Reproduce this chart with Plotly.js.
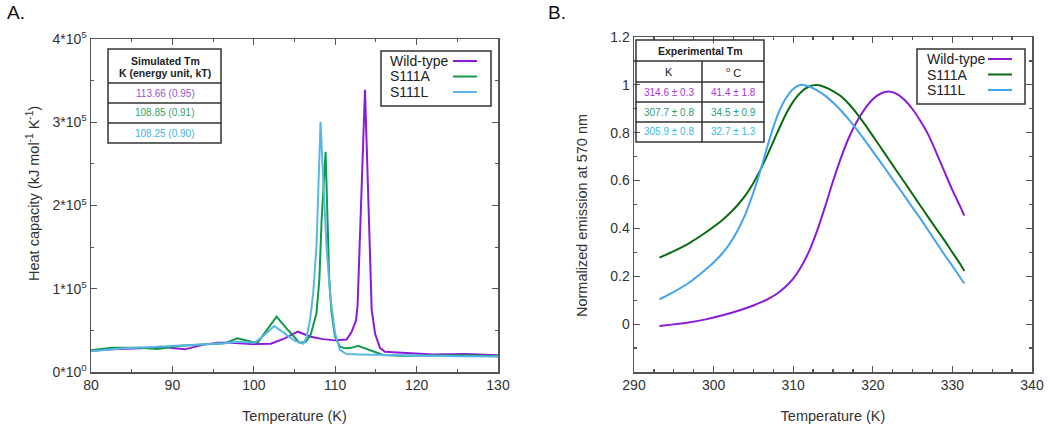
<!DOCTYPE html>
<html>
<head>
<meta charset="utf-8">
<script src="https://cdn.plot.ly/plotly-3.0.1.min.js"></script>
<style>
  body { margin: 0; background: #fff; }
  #myDiv { width: 1050px; height: 428px; }
</style>
</head>
<body>
<div id="myDiv"></div>
<script>
// ---- panel A: simulated heat capacity ----
const tA_wt = [80, 82.5, 86.1, 88.6, 91.5, 94.0, 95.6, 97.2, 99.7, 102.1, 103.8, 105.4, 107.0, 108.5, 110, 111.4, 112.0, 112.56, 112.75, 113.2, 113.66, 114.0, 114.48, 114.9, 115.5, 116.1, 117.5, 119, 122, 126, 130];
const cp_wt = [25600, 27200, 28400, 30400, 27200, 33200, 35200, 35200, 33600, 34000, 40400, 48400, 42400, 39500, 38000, 39000, 48000, 62000, 80000, 210000, 339000, 230000, 75000, 46000, 29000, 24400, 23500, 23000, 21000, 21500, 20000];

const tA_a = [80, 82.5, 86.1, 88.2, 90.6, 93.5, 96.4, 98.0, 99.7, 100.5, 101.7, 102.8, 104.2, 105.6, 106.4, 107.0, 107.7, 108.05, 108.33, 108.82, 109.27, 109.56, 109.98, 110.6, 111.2, 112.0, 112.8, 114.3, 115.9, 118, 122, 126, 130];
const cp_a = [26000, 29200, 29200, 27600, 31200, 32400, 34400, 40400, 36400, 35600, 52400, 66400, 50400, 35200, 36400, 45000, 70800, 110500, 182500, 264600, 110500, 70800, 42400, 30400, 28400, 29000, 31600, 26400, 20400, 19500, 19500, 20000, 19000];

const tA_l = [80, 84.1, 88.2, 92.3, 96.4, 98.0, 100.1, 101.3, 102.5, 103.8, 105.0, 106.1, 106.5, 106.9, 107.3, 107.7, 108.2, 108.53, 108.94, 109.4, 109.98, 110.6, 111.4, 113, 116, 120, 125, 130];
const cp_l = [25000, 28400, 30400, 32400, 34400, 36400, 35200, 44400, 55200, 46400, 37600, 34000, 42000, 62400, 94500, 150500, 300600, 230600, 150500, 90400, 46500, 26400, 21600, 21000, 20400, 19500, 19000, 18500];

const yTickValsA = [0, 100000, 200000, 300000, 400000];
const yTickTextA = ['0*10<sup>0</sup>', '1*10<sup>5</sup>', '2*10<sup>5</sup>', '3*10<sup>5</sup>', '4*10<sup>5</sup>'];
const simTm = ['113.66 (0.95)', '108.85 (0.91)', '108.25 (0.90)'];

// ---- panel B: experimental emission ----
const tB_wt = [293.2, 295, 297, 299, 301, 303, 305, 306, 307, 308, 309, 310, 311, 312, 313, 314, 315, 316, 317, 318, 319, 320, 321, 322, 323, 324, 325, 326, 327, 328, 329, 330, 331, 331.5];
const em_wt = [-0.008, -0.001, 0.008, 0.02, 0.036, 0.055, 0.078, 0.092, 0.108, 0.128, 0.155, 0.19, 0.24, 0.305, 0.39, 0.49, 0.597, 0.695, 0.78, 0.847, 0.90, 0.94, 0.964, 0.972, 0.962, 0.937, 0.898, 0.848, 0.79, 0.715, 0.637, 0.56, 0.49, 0.454];

const tB_a = [293.2, 295, 297, 299, 301, 302, 303, 304, 305, 306, 307, 308, 309, 310, 311, 312, 313, 314, 315, 316, 317, 318, 319, 320, 321, 322, 323, 324, 325, 326, 327, 328, 329, 330, 331, 331.5];
const em_a = [0.278, 0.305, 0.34, 0.383, 0.432, 0.462, 0.497, 0.538, 0.59, 0.653, 0.725, 0.80, 0.872, 0.93, 0.97, 0.993, 0.999, 0.99, 0.974, 0.952, 0.92, 0.88, 0.835, 0.787, 0.738, 0.689, 0.64, 0.592, 0.543, 0.494, 0.445, 0.397, 0.35, 0.3, 0.25, 0.222];

const tB_l = [293.2, 295, 297, 299, 300, 301, 302, 303, 304, 305, 306, 307, 308, 309, 310, 311, 312, 313, 314, 315, 316, 317, 318, 319, 320, 321, 322, 323, 324, 325, 326, 327, 328, 329, 330, 331, 331.5];
const em_l = [0.104, 0.135, 0.175, 0.228, 0.258, 0.292, 0.335, 0.39, 0.46, 0.55, 0.655, 0.77, 0.87, 0.94, 0.983, 1.0, 0.993, 0.977, 0.955, 0.926, 0.893, 0.855, 0.813, 0.768, 0.722, 0.676, 0.629, 0.582, 0.535, 0.487, 0.44, 0.39, 0.34, 0.29, 0.243, 0.194, 0.17];

const yTickValsB = [0, 0.2, 0.4, 0.6, 0.8, 1, 1.2];
const yTickTextB = ['0', '0.2', '0.4', '0.6', '0.8', '1', '1.2'];
const expK = ['314.6 \u00b1 0.3', '307.7 \u00b1 0.8', '305.9 \u00b1 0.8'];
const expC = ['41.4 \u00b1 1.8', '34.5 \u00b1 0.9', '32.7 \u00b1 1.3'];

const names = ['Wild-type', 'S111A', 'S111L'];
const colA = ['#8b1bd6', '#0f9a4c', '#5ab6e6'];
const colB = ['#8b1bd6', '#0b6b12', '#42a4ee'];
const tabColA = ['#9a55cc', '#2ea46c', '#3ab6e6'];
const tabColB = ['#a438d2', '#2aa172', '#3ab8ea'];

const W = 1050, H = 428;
const px = x => x / W;
const py = y => 1 - y / H;
const font = 'Liberation Sans, Arial, sans-serif';

function tr(x, y, c, xa, ya, shape) {
    return {x: x, y: y, xaxis: xa, yaxis: ya, mode: 'lines', type: 'scatter',
        line: {color: c, width: 2, shape: shape, smoothing: 0.8}, showlegend: false, hoverinfo: 'skip'};
}

var data = [
    tr(tA_wt, cp_wt, colA[0], 'x', 'y', 'linear'),
    tr(tA_a, cp_a, colA[1], 'x', 'y', 'linear'),
    tr(tA_l, cp_l, colA[2], 'x', 'y', 'linear'),
    tr(tB_wt, em_wt, colB[0], 'x2', 'y2', 'spline'),
    tr(tB_a, em_a, colB[1], 'x2', 'y2', 'spline'),
    tr(tB_l, em_l, colB[2], 'x2', 'y2', 'spline')
];

function ax(extra) {
    return Object.assign({
        showline: true, mirror: 'ticks', linecolor: '#555', linewidth: 1.5,
        ticks: 'inside', ticklen: 6, tickcolor: '#555', tickwidth: 1.2,
        showgrid: false, zeroline: false,
        tickfont: {family: font, size: 14, color: '#333'}
    }, extra);
}

var shapes = [];
var ann = [];

function rect(x0, y0, x1, y1) {
    shapes.push({type: 'rect', xref: 'paper', yref: 'paper', x0: px(x0), x1: px(x1), y0: py(y0), y1: py(y1),
        line: {color: '#333', width: 1.5}});
}
function hline(x0, x1, y, c, w) {
    shapes.push({type: 'line', xref: 'paper', yref: 'paper', x0: px(x0), x1: px(x1), y0: py(y), y1: py(y),
        line: {color: c || '#333', width: w || 1.5}});
}
function vline(x, y0, y1) {
    shapes.push({type: 'line', xref: 'paper', yref: 'paper', x0: px(x), x1: px(x), y0: py(y0), y1: py(y1),
        line: {color: '#333', width: 1.5}});
}
function txt(x, y, s, size, color, anchor, extra) {
    ann.push(Object.assign({xref: 'paper', yref: 'paper', x: px(x), y: py(y), text: s, showarrow: false,
        xanchor: anchor || 'center', yanchor: 'middle',
        font: {family: font, size: size, color: color || '#222'}}, extra || {}));
}

// panel labels
txt(5, 12, 'A.', 19, '#111', 'left');
txt(546, 12, 'B.', 19, '#111', 'left');

// y titles placed by hand (they sit off the domain centre in the reference)
txt(33, 194, 'Heat capacity (kJ mol<sup>-1</sup> K<sup>-1</sup>)', 14.5, '#333', 'center', {textangle: -90});
txt(582, 216, 'Normalized emission at 570 nm', 14.5, '#333', 'center', {textangle: -90});

// table A
rect(108, 49, 221, 143);
[83, 103, 123].forEach(y => hline(108, 221, y));
txt(165, 61, '<b>Simulated Tm</b>', 10.5, '#222');
txt(165, 73, '<b>K (energy unit, kT)</b>', 10.5, '#222');
simTm.forEach((s, i) => txt(165, 93 + 20 * i, s, 10, tabColA[i]));

// table B
rect(636, 40, 764, 142);
[61, 82, 102, 122].forEach(y => hline(636, 764, y));
vline(702, 61, 142);
txt(700, 51, '<b>Experimental Tm</b>', 10.5, '#222');
txt(669, 72, 'K', 11, '#222');
txt(733, 72, '<sup>o</sup> C', 11, '#222');
expK.forEach((s, i) => txt(669, 92 + 20 * i, s, 10, tabColB[i]));
expC.forEach((s, i) => txt(733, 92 + 20 * i, s, 10, tabColB[i]));

// legends (text first, sample line after)
rect(381, 51, 491, 106);
names.forEach((n, i) => {
    txt(388, 61 + 15.5 * i, n, 14, '#222', 'left');
    hline(453, 477, 61 + 15.5 * i, colA[i], 2);
});
rect(917, 49, 1025, 104);
names.forEach((n, i) => {
    txt(925, 59 + 15.5 * i, n, 14, '#222', 'left');
    hline(988, 1012, 59 + 15.5 * i, colB[i], 2);
});

const xTitle = {text: 'Temperature (K)', font: {family: font, size: 14.5, color: '#333'}, standoff: 18};

var layout = {
    width: W, height: H,
    margin: {l: 0, r: 0, t: 0, b: 0},
    paper_bgcolor: '#fff', plot_bgcolor: '#fff',
    font: {family: font},
    xaxis: ax({domain: [px(91), px(498)], range: [80, 130], tickvals: [80, 90, 100, 110, 120, 130],
        minor: {dtick: 5, ticks: 'inside', ticklen: 3, tickcolor: '#555'}, anchor: 'y', title: xTitle}),
    yaxis: ax({domain: [py(372), py(39)], range: [0, 400000], tickvals: yTickValsA, ticktext: yTickTextA,
        minor: {dtick: 50000, ticks: 'inside', ticklen: 3, tickcolor: '#555'}, anchor: 'x'}),
    xaxis2: ax({domain: [px(634), px(1032)], range: [290, 340], tickvals: [290, 300, 310, 320, 330, 340],
        minor: {dtick: 2.5, ticks: 'inside', ticklen: 3, tickcolor: '#555'}, anchor: 'y2', title: xTitle}),
    yaxis2: ax({domain: [py(372), py(37)], range: [-0.2, 1.2], tickvals: yTickValsB, ticktext: yTickTextB,
        minor: {dtick: 0.1, ticks: 'inside', ticklen: 3, tickcolor: '#555'}, anchor: 'x2'}),
    shapes: shapes,
    annotations: ann
};

Plotly.newPlot('myDiv', data, layout, {displayModeBar: false, staticPlot: true});
</script>
</body>
</html>
